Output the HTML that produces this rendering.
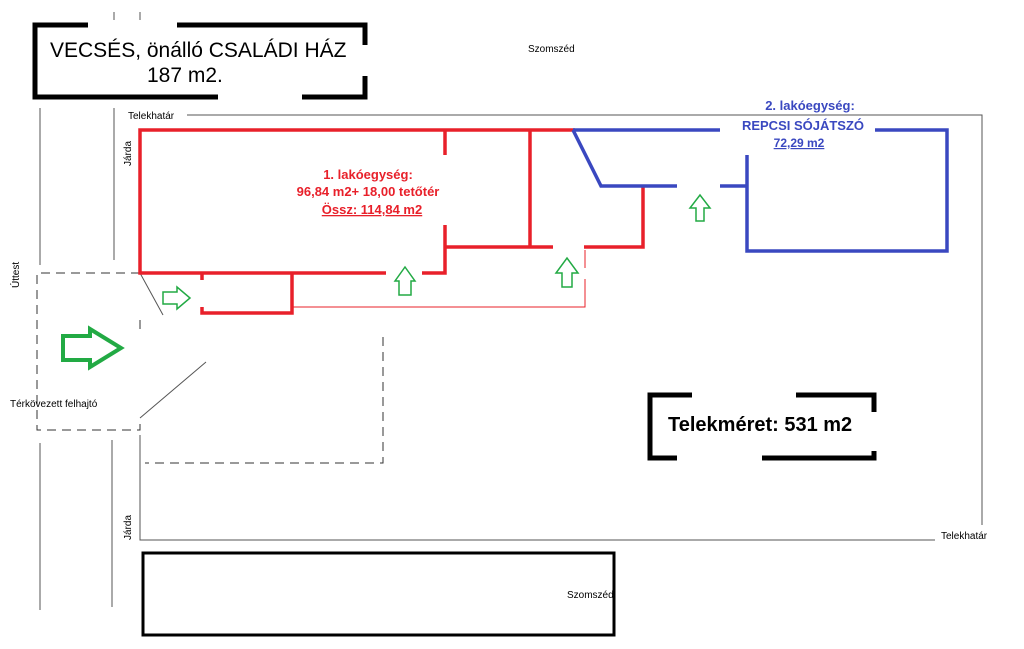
<!DOCTYPE html>
<html><head><meta charset="utf-8"><style>
html,body{margin:0;padding:0;background:#fff;width:1024px;height:649px;overflow:hidden}
svg{display:block}
text{font-family:"Liberation Sans",sans-serif}
</style></head><body>
<svg width="1024" height="649" viewBox="0 0 1024 649" xmlns="http://www.w3.org/2000/svg">
<g stroke="#000" stroke-width="5" fill="none">
<path d="M88,25 H35 V97 H218"/>
<path d="M177,25 H365 V45 M365,76 V97 H302"/>
<path d="M692,395 H650 V458 H677"/>
<path d="M796,395 H874 V412 M874,451 V458 H762"/>
</g>
<text x="50" y="57" font-size="21">VECSÉS, önálló CSALÁDI HÁZ</text>
<text x="147" y="82" font-size="21">187 m2.</text>
<text x="668" y="431" font-size="20" font-weight="bold">Telekméret: 531 m2</text>
<g stroke="#555" stroke-width="1" fill="none">
<path d="M114,12 V20 M140,12 V20"/>
<path d="M40,108 V265 M114,108 V260 M40,443 V610 M112,440 V607"/>
<path d="M187,115 H982 V525"/>
<path d="M140,435 V540 H935"/>
<path d="M140,273 L163,315 M140,418 L206,362"/>
</g>
<g stroke="#333" stroke-width="1" fill="none" stroke-dasharray="9,6">
<path d="M140,273 H37 V430 H140 V418"/>
<path d="M140,320 V332"/>
<path d="M383,337 V463 H145"/>
</g>
<rect x="143" y="553" width="471" height="82" fill="none" stroke="#000" stroke-width="3"/>
<text x="128" y="119" font-size="10">Telekhatár</text>
<text x="941" y="539" font-size="10">Telekhatár</text>
<text x="528" y="52" font-size="10">Szomszéd</text>
<text x="567" y="598" font-size="10">Szomszéd</text>
<text x="10" y="407" font-size="10">Térkövezett felhajtó</text>
<text transform="translate(131,166) rotate(-90)" font-size="10">Járda</text>
<text transform="translate(131,540) rotate(-90)" font-size="10">Járda</text>
<text transform="translate(19,288) rotate(-90)" font-size="10">Úttest</text>
<g stroke="#e8202a" stroke-width="3.5" fill="none">
<path d="M575,130 H140 V273 H386 M422,273 H445 V225 M445,155 V130"/>
<path d="M445,247 H530 V130 M530,247 H553 M584,247 H643 V187"/>
<path d="M202,273 V280 M202,307 V313 H292 V273"/>
</g>
<path d="M292,307 H585 V279 M585,268 V250" stroke="#e8202a" stroke-width="1" fill="none"/>
<g fill="#e8202a" font-size="13" font-weight="bold" text-anchor="middle">
<text x="368" y="179">1. lakóegység:</text>
<text x="368" y="196">96,84 m2+ 18,00 tetőtér</text>
<text x="372" y="214" text-decoration="underline">Össz: 114,84 m2</text>
</g>
<g stroke="#3a48c0" stroke-width="3.5" fill="none">
<path d="M573,130 H720 M875,130 H947 V251 H747 V155"/>
<path d="M573,130 L601,186 H677 M720,186 H747"/>
</g>
<g fill="#3a48c0" font-size="13" font-weight="bold" text-anchor="middle">
<text x="810" y="110">2. lakóegység:</text>
<text x="803" y="130">REPCSI SÓJÁTSZÓ</text>
<text x="799" y="147" text-decoration="underline" font-size="12">72,29 m2</text>
</g>
<g stroke="#22aa44" fill="none" stroke-linejoin="miter">
<path d="M63,336 H90 V329 L121,348 L90,367 V360 H63 Z" stroke-width="4"/>
<path d="M163,292 H177 V287 L190,298 L177,309 V304 H163 Z" stroke-width="1.5"/>
<path d="M399,295 V281 H395 L405,267 L415,281 H411 V295 Z" stroke-width="1.5"/>
<path d="M562,287 V273 H556 L567,258 L578,273 H572 V287 Z" stroke-width="1.5"/>
<path d="M696,221 V208 H690 L700,195 L710,208 H704 V221 Z" stroke-width="1.5"/>
</g>
</svg>
</body></html>
